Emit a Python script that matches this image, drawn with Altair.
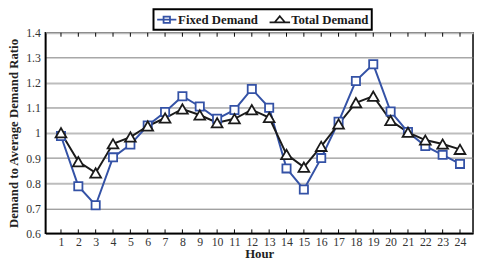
import altair as alt
import pandas as pd

hours = list(range(1, 25))
series_names = ["Fixed Demand", "Total Demand"]
fixed = [0.988, 0.788, 0.712, 0.903, 0.954, 1.030, 1.084, 1.147, 1.106, 1.057, 1.092,
         1.176, 1.101, 0.859, 0.775, 0.900, 1.045, 1.208, 1.274, 1.086, 1.004, 0.948, 0.913, 0.877]
total = [1.001, 0.886, 0.841, 0.957, 0.984, 1.028, 1.060, 1.096, 1.072, 1.041, 1.057,
         1.093, 1.062, 0.915, 0.864, 0.947, 1.036, 1.121, 1.147, 1.050, 1.003, 0.972, 0.956, 0.935]
y_ticks = [0.6, 0.7, 0.8, 0.9, 1.0, 1.1, 1.2, 1.3, 1.4]

df = pd.DataFrame({
    "hour": hours * 2,
    "value": fixed + total,
    "series": [series_names[0]] * 24 + [series_names[1]] * 24,
})

W, H = 435, 204
FONT = "Liberation Serif"
colors = ["#3452a6", "#1a1a1a"]

x_scale = alt.Scale(domain=[0.1, 24.75], nice=False, zero=False)
y_scale = alt.Scale(domain=[0.6, 1.4], nice=False, zero=False)

x_enc = alt.X("hour:Q", scale=x_scale,
              axis=alt.Axis(values=hours, title="Hour", ticks=False, grid=False,
                            labelFont=FONT, labelFontSize=12, labelColor="#333",
                            labelPadding=3, titleFont=FONT, titleFontSize=13,
                            titleFontWeight="bold", titleColor="#222", titlePadding=1,
                            domainColor="black", domainWidth=1.5, labelFlush=False,
                            labelOverlap=False))
y_enc = alt.Y("value:Q", scale=y_scale,
              axis=alt.Axis(values=y_ticks, format="~g", title="Demand to Average Demand Ratio",
                            ticks=False, labelFont=FONT, labelFontSize=12, labelColor="#333",
                            labelPadding=5, titleFont=FONT, titleFontSize=13,
                            titleFontWeight="bold", titleColor="#222", titlePadding=5,
                            domainColor="black", domainWidth=1.5, labelOverlap=False,
                            gridColor={"condition": {"test": "round(datum.value*10) % 2 == 0",
                                                     "value": "#bdbdbd"}, "value": "#7a7a7a"},
                            gridWidth={"condition": {"test": "round(datum.value*10) % 2 == 0",
                                                     "value": 2}, "value": 1}))

SQ = "M-1.5,0H1.5M-0.5,-0.5H0.5V0.5H-0.5Z"
TRI = "M-1.6,0.4H1.6M0,-0.55L0.8,0.4H-0.8Z"

legend = alt.Legend(
    title=None, orient="none", legendX=110, legendY=-24, direction="horizontal",
    strokeColor="black", fillColor="white", padding=3,
    labelFont=FONT, labelFontSize=13, labelFontWeight="bold", labelColor="#1a1a1a",
    symbolSize=170, symbolStrokeWidth=1.8, columnPadding=7, labelOffset=4,
    symbolOffset=3, symbolFillColor="transparent", symbolOpacity=1,
)

base = alt.Chart(df).encode(x=x_enc, y=y_enc)

line_fixed = base.transform_filter(alt.datum.series == series_names[0]).mark_line(
    strokeWidth=2, color=colors[0])
line_total = base.transform_filter(alt.datum.series == series_names[1]).mark_line(
    strokeWidth=2, color=colors[1])

squares = base.transform_filter(
    alt.datum.series == series_names[0]
).mark_point(shape="square", filled=False, fill="white", strokeWidth=1.8, opacity=1,
             size=70, color=colors[0])

triangles = base.transform_filter(
    alt.datum.series == series_names[1]
).mark_point(shape="triangle-up", filled=False, fill="white", strokeWidth=1.8, opacity=1,
             size=120, color=colors[1])

legend_layer = base.mark_point(filled=False, strokeWidth=1.8, opacity=0).encode(
    color=alt.Color("series:N", scale=alt.Scale(domain=series_names, range=colors), legend=legend),
    shape=alt.Shape("series:N", scale=alt.Scale(domain=series_names, range=[SQ, TRI]), legend=legend),
)

top_ticks = base.mark_rule(color="black", strokeWidth=1).encode(
    y=alt.value(0), y2=alt.value(4)).transform_filter(alt.datum.series == series_names[0])
bottom_ticks = base.mark_rule(color="black", strokeWidth=1).encode(
    y=alt.value(H - 4), y2=alt.value(H)).transform_filter(alt.datum.series == series_names[0])

chart = alt.layer(line_fixed, line_total, squares, triangles, legend_layer,
                  top_ticks, bottom_ticks).properties(
    width=W, height=H,
    autosize=alt.AutoSizeParams(type="none"),
    padding={"left": 38, "top": 23, "right": 1, "bottom": 28},
    background="white",
).configure_view(stroke="black", strokeWidth=1.5).configure_legend(strokeWidth=2)

chart.save("out.html", embed_options={"renderer": "svg", "actions": False})
